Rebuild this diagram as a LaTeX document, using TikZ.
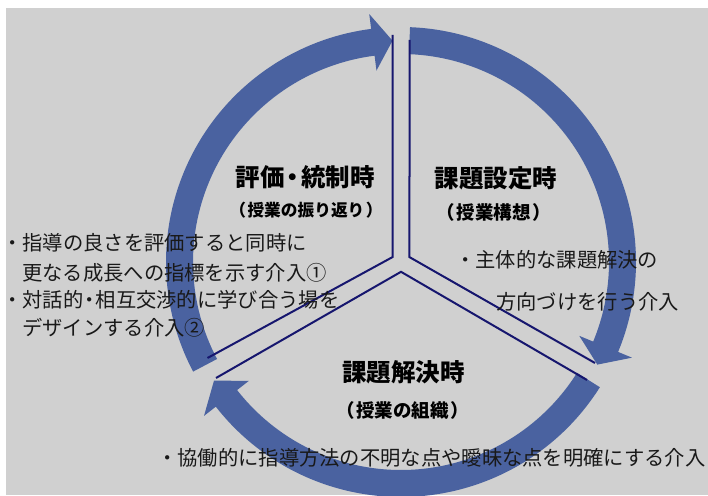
\documentclass[tikz,border=0pt]{standalone}
\usepackage{fontspec}
\newfontfamily\jp{Noto Sans CJK JP}
\usetikzlibrary{calc}
\definecolor{bggray}{RGB}{208,208,208}
\definecolor{ringblue}{RGB}{74,98,160}
\definecolor{navy}{RGB}{22,22,110}
\definecolor{txt}{RGB}{25,25,25}
\newcommand\ringarrow[3]{%
  \fill[ringblue] ($(C)+(#1:235)$) arc[start angle=#1, end angle=#2, radius=235pt]
    -- ($(C)+(#2:250)$) -- ($(C)+(#3:221.5)$) -- ($(C)+(#2:193)$)
    -- ($(C)+(#2:208)$) arc[start angle=#2, end angle=#1, radius=208pt] -- cycle;}
\newcommand\paren[1]{（\kern1.5pt#1\kern1.5pt）}
\begin{document}
\begin{tikzpicture}[x=1pt,y=1pt,
  title/.style={font=\jp\bfseries\fontsize{24.5}{28}\selectfont, text=black, inner sep=0pt},
  sub/.style={font=\jp\bfseries\fontsize{18.5}{22}\selectfont, text=black, inner sep=0pt},
  body/.style={font=\jp\fontsize{20.3}{24}\selectfont, text=txt, inner sep=0pt, anchor=west},
  gapline/.style={draw=navy, line width=2pt, line join=miter},
]
\useasboundingbox (0,0) rectangle (708,495);
\fill[white] (0,0) rectangle (708,495);
\fill[bggray] (6,0) rectangle (708,487);

\coordinate (C) at (401,233);

% ring arrows
\ringarrow{207.8}{97.3}{92.2}
\ringarrow{87.8}{-22.5}{-27.6}
\ringarrow{-32.2}{-142}{-147.6}

% Y-shaped gap lines
\coordinate (P1) at ($(C)+(150:9.8)$);
\coordinate (P2) at ($(C)+(30:9.8)$);
\coordinate (P3) at ($(C)+(270:9.8)$);
\coordinate (TL) at (392.5,460);
\coordinate (TR) at (409.5,455);
\coordinate (UL) at (207.5,137);
\coordinate (LL) at (216,117);
\coordinate (UR) at (595,132);
\coordinate (LR) at (587,115);
\draw[gapline] (TL) -- (P1) -- (UL);
\draw[gapline] (TR) -- (P2) -- (UR);
\draw[gapline] (LL) -- (P3) -- (LR);

% titles
\node[title] (t1) at (305,317.5) {評価{\kern-4pt}・{\kern-4pt}統制時};
\node[sub, font=\jp\bfseries\fontsize{16.7}{20}\selectfont] (s1) at (306,284.5) {\paren{授業の振り返り}};
\node[title] (t2) at (496,317) {課題設定時};
\node[sub] (s2) at (493.5,283) {\paren{授業構想}};
\node[title] (t3) at (403.5,123) {課題解決時};
\node[sub] (s3) at (402.5,85) {\paren{授業の組織}};

% body texts
\node[body] (r1) at (455,235) {・主体的な課題解決の};
\node[body] (r2) at (496,193) {方向づけを行う介入};
\node[body] (l1) at (2,252) {・指導の良さを評価すると同時に};
\node[body] (l2) at (22,222) {更なる成長への指標を示す介入①};
\node[body] (l3) at (2,195) {・対話的{\kern-4pt}・{\kern-4pt}相互交渉的に学び合う場を};
\node[body] (l4) at (22,167) {デザインする介入②};
\node[body] (b1) at (157,37) {・協働的に指導方法の不明な点や曖昧な点を明確にする介入};
\end{tikzpicture}
\end{document}
